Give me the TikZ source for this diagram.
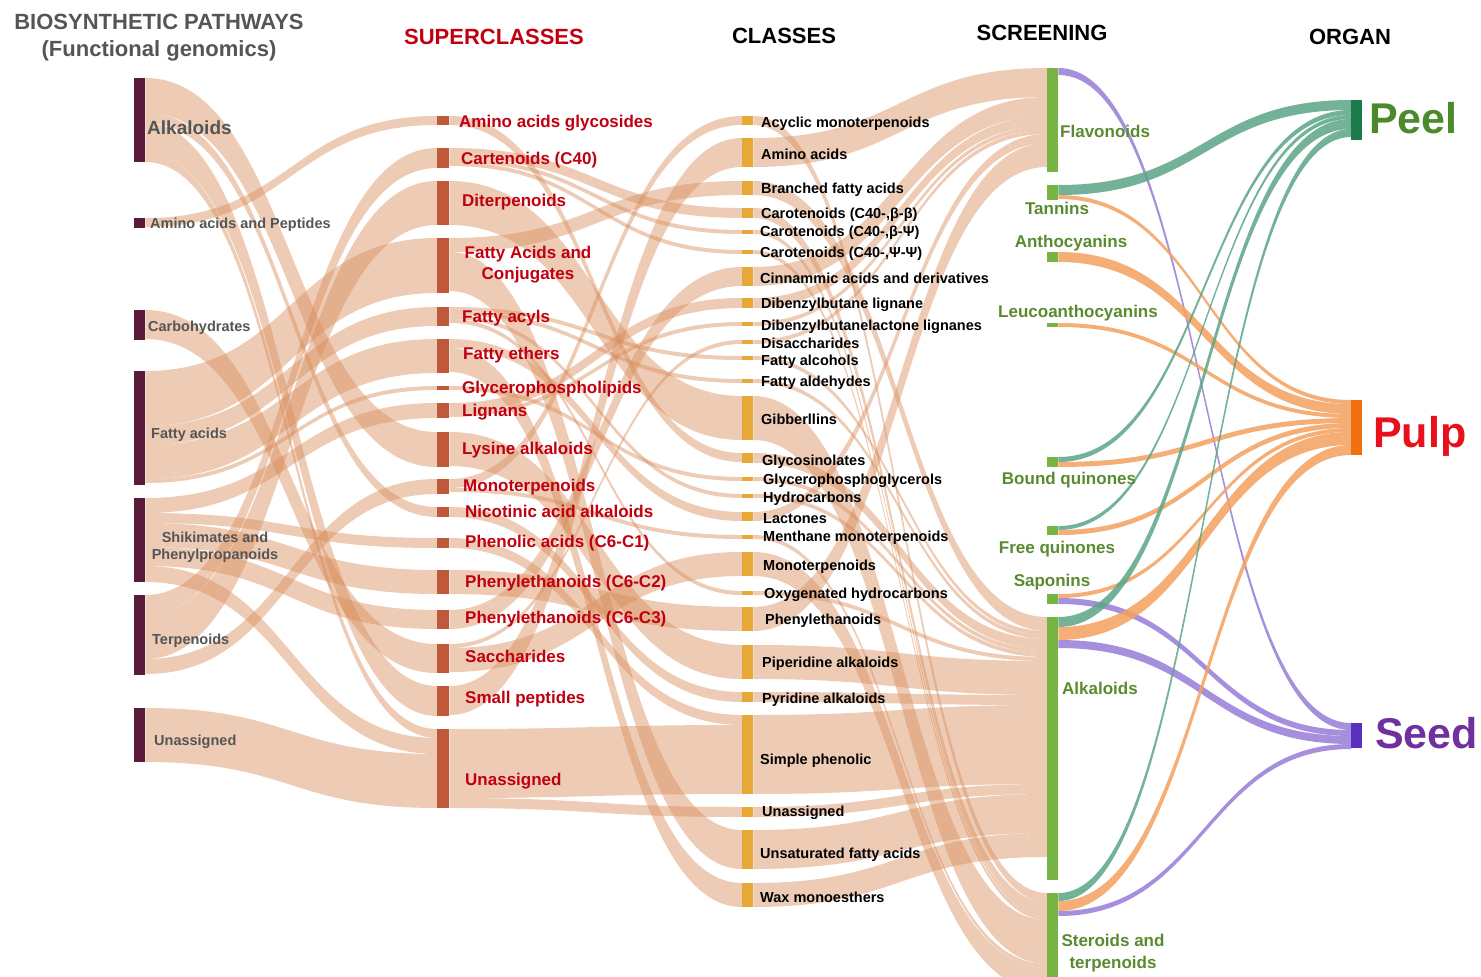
\documentclass[tikz,border=0pt]{standalone}
\usepackage{fontspec}
\setmainfont{Liberation Sans}
\usetikzlibrary{calc,backgrounds}

\definecolor{pathc}{HTML}{5A1A3A}
\definecolor{superc}{HTML}{C0583A}
\definecolor{classc}{HTML}{E8A838}
\definecolor{screenc}{HTML}{78B444}
\definecolor{flowc}{RGB}{215,140,90}
\definecolor{peelc}{HTML}{1A7A4A}
\definecolor{pulpc}{HTML}{F07010}
\definecolor{seedc}{HTML}{5A30C0}
\definecolor{tealc}{RGB}{90,165,135}
\definecolor{orangec}{RGB}{245,160,95}
\definecolor{purplec}{RGB}{150,125,215}
\definecolor{supertext}{HTML}{C00010}
\definecolor{greytext}{HTML}{555555}
\definecolor{greentext}{HTML}{5A8A30}

% band from the east side of one bar to the west side of another,
% stacked under the bands already drawn at both ends
\newcommand\band[4][flow]{%
  \ifcsname bo#2\endcsname\else\expandafter\gdef\csname bo#2\endcsname{0}\fi
  \ifcsname bi#3\endcsname\else\expandafter\gdef\csname bi#3\endcsname{0}\fi
  \edef\bandso{\csname bo#2\endcsname}\edef\bandsi{\csname bi#3\endcsname}%
  \path[#1] let \p1=($(#2.north east)+(0,\bandso)$), \p2=($(#3.north west)+(0,\bandsi)$) in
    (\x1,\y1) .. controls ({(\x1+\x2)/2},\y1) and ({(\x1+\x2)/2},\y2) .. (\x2,\y2)
    -- (\x2,{\y2-#4pt}) .. controls ({(\x1+\x2)/2},{\y2-#4pt}) and ({(\x1+\x2)/2},{\y1-#4pt}) .. (\x1,{\y1-#4pt}) -- cycle;
  \pgfmathsetmacro\bandtmp{\bandso+#4}\expandafter\xdef\csname bo#2\endcsname{\bandtmp}%
  \pgfmathsetmacro\bandtmp{\bandsi+#4}\expandafter\xdef\csname bi#3\endcsname{\bandtmp}%
}

\begin{document}
\begin{tikzpicture}[x=1pt, y=-1pt,
    bar/.style={rectangle, inner sep=0pt, anchor=north west, minimum width=11},
    pbar/.style={bar, fill=pathc},
    sbar/.style={bar, fill=superc, minimum width=12},
    cbar/.style={bar, fill=classc},
    fbar/.style={bar, fill=screenc},
    flow/.style={fill=flowc, fill opacity=0.45},
    peelf/.style={fill=tealc, fill opacity=0.85},
    pulpf/.style={fill=orangec, fill opacity=0.85},
    seedf/.style={fill=purplec, fill opacity=0.85},
    head/.style={font=\fontsize{22}{27}\selectfont\bfseries, align=center, inner sep=0pt, text height=15.8pt, text depth=0pt},
    plab/.style={font=\fontsize{14.5}{17}\selectfont\bfseries, text=greytext, anchor=west, inner sep=0pt, text height=10.4pt, text depth=0pt},
    slab/.style={font=\fontsize{17}{21}\selectfont\bfseries, text=supertext, anchor=west, inner sep=0pt, text height=12.2pt, text depth=0pt},
    clab/.style={font=\fontsize{14.5}{17}\selectfont\bfseries, anchor=west, inner sep=0pt, text height=10.4pt, text depth=0pt},
    flab/.style={font=\fontsize{17}{22}\selectfont\bfseries, text=greentext, inner sep=0pt, text height=12.2pt, text depth=0pt},
    olab/.style={font=\fontsize{43}{43}\selectfont\bfseries, anchor=west, inner sep=0pt, text height=31pt, text depth=0pt}]
\useasboundingbox (0,0) rectangle (1481,977);

% column headers
\node[head, text=greytext] (hPath) at (159,22) {BIOSYNTHETIC PATHWAYS};
\node[head, text=greytext] (hPathSub) at (159,49) {(Functional genomics)};
\node[head, text=supertext] (hSup) at (494,37) {SUPERCLASSES};
\node[head] (hCla) at (784,36) {CLASSES};
\node[head] (hScr) at (1042,33) {SCREENING};
\node[head] (hOrg) at (1350,37) {ORGAN};

% biosynthetic pathways
\node[pbar, minimum height=84] (pAlk) at (134,78) {};
\node[pbar, minimum height=10] (pAmi) at (134,218) {};
\node[pbar, minimum height=30] (pCar) at (134,310) {};
\node[pbar, minimum height=114] (pFat) at (134,371) {};
\node[pbar, minimum height=84] (pShi) at (134,498) {};
\node[pbar, minimum height=80] (pTer) at (134,595) {};
\node[pbar, minimum height=54] (pUna) at (134,708) {};

% superclasses
\node[sbar, minimum height=9] (sAag) at (437,116) {};
\node[sbar, minimum height=20] (sCar) at (437,148) {};
\node[sbar, minimum height=44] (sDit) at (437,181) {};
\node[sbar, minimum height=55] (sFac) at (437,238) {};
\node[sbar, minimum height=19] (sFay) at (437,307) {};
\node[sbar, minimum height=34] (sFet) at (437,339) {};
\node[sbar, minimum height=4] (sGly) at (437,386) {};
\node[sbar, minimum height=15] (sLig) at (437,403) {};
\node[sbar, minimum height=35] (sLys) at (437,432) {};
\node[sbar, minimum height=15] (sMon) at (437,479) {};
\node[sbar, minimum height=10] (sNic) at (437,507) {};
\node[sbar, minimum height=10] (sPhe) at (437,538) {};
\node[sbar, minimum height=24] (sPtwo) at (437,570) {};
\node[sbar, minimum height=19] (sPthree) at (437,610) {};
\node[sbar, minimum height=29] (sSac) at (437,644) {};
\node[sbar, minimum height=30] (sSma) at (437,686) {};
\node[sbar, minimum height=79] (sUna) at (437,729) {};

% classes
\node[cbar, minimum height=9] (cAcy) at (742,116) {};
\node[cbar, minimum height=29] (cAmi) at (742,138) {};
\node[cbar, minimum height=14] (cBra) at (742,181) {};
\node[cbar, minimum height=10] (cCbb) at (742,208) {};
\node[cbar, minimum height=4] (cCbp) at (742,230) {};
\node[cbar, minimum height=4] (cCpp) at (742,250) {};
\node[cbar, minimum height=19] (cCin) at (742,267) {};
\node[cbar, minimum height=10] (cDib) at (742,298) {};
\node[cbar, minimum height=4] (cDbl) at (742,322) {};
\node[cbar, minimum height=4] (cDis) at (742,340) {};
\node[cbar, minimum height=4] (cFal) at (742,356) {};
\node[cbar, minimum height=4] (cFad) at (742,379) {};
\node[cbar, minimum height=44] (cGib) at (742,396) {};
\node[cbar, minimum height=10] (cGls) at (742,453) {};
\node[cbar, minimum height=4] (cGpg) at (742,477) {};
\node[cbar, minimum height=4] (cHyd) at (742,494) {};
\node[cbar, minimum height=9] (cLac) at (742,512) {};
\node[cbar, minimum height=4] (cMen) at (742,535) {};
\node[cbar, minimum height=24] (cMon) at (742,552) {};
\node[cbar, minimum height=4] (cOxy) at (742,591) {};
\node[cbar, minimum height=24] (cPhe) at (742,607) {};
\node[cbar, minimum height=34] (cPip) at (742,645) {};
\node[cbar, minimum height=10] (cPyr) at (742,692) {};
\node[cbar, minimum height=79] (cSim) at (742,715) {};
\node[cbar, minimum height=10] (cUna) at (742,807) {};
\node[cbar, minimum height=39] (cUns) at (742,830) {};
\node[cbar, minimum height=24] (cWax) at (742,883) {};

% screening
\node[fbar, minimum height=104] (fFla) at (1047,68) {};
\node[fbar, minimum height=15] (fTan) at (1047,185) {};
\node[fbar, minimum height=10] (fAnt) at (1047,252) {};
\node[fbar, minimum height=4] (fLeu) at (1047,323) {};
\node[fbar, minimum height=10] (fBou) at (1047,457) {};
\node[fbar, minimum height=9] (fFre) at (1047,526) {};
\node[fbar, minimum height=10] (fSap) at (1047,594) {};
\node[fbar, minimum height=263] (fAlk) at (1047,617) {};
\node[fbar, minimum height=90] (fSte) at (1047,893) {};

% organs
\node[bar, fill=peelc, minimum height=40] (oPeel) at (1351,100) {};
\node[bar, fill=pulpc, minimum height=55] (oPulp) at (1351,400) {};
\node[bar, fill=seedc, minimum height=25] (oSeed) at (1351,723) {};

\begin{scope}[on background layer]
\clip (0,0) rectangle (1481,977);
% pathways -> superclasses
\band{pAlk}{sLys}{35}
\band{pAlk}{sNic}{10}
\band{pAlk}{sSma}{30}
\band{pAlk}{sUna}{9}
\band{pAmi}{sAag}{9}
\band{pCar}{sSac}{29}
\band{pFat}{sFac}{55}
\band{pFat}{sFay}{19}
\band{pFat}{sFet}{34}
\band{pFat}{sGly}{4}
\band{pShi}{sLig}{15}
\band{pShi}{sPhe}{10}
\band{pShi}{sPtwo}{24}
\band{pShi}{sPthree}{19}
\band{pShi}{sUna}{16}
\band{pTer}{sCar}{20}
\band{pTer}{sDit}{44}
\band{pTer}{sMon}{15}
\band{pUna}{sUna}{54}
% superclasses -> classes
\band{sAag}{cGls}{9}
\band{sCar}{cCbb}{10}
\band{sCar}{cCbp}{4}
\band{sCar}{cCpp}{4}
\band{sDit}{cGib}{44}
\band{sFac}{cBra}{14}
\band{sFac}{cUns}{39}
\band{sFay}{cFal}{4}
\band{sFay}{cFad}{4}
\band{sFay}{cHyd}{4}
\band{sFay}{cOxy}{4}
\band{sFet}{cLac}{9}
\band{sFet}{cWax}{24}
\band{sGly}{cGpg}{4}
\band{sLig}{cDib}{10}
\band{sLig}{cDbl}{4}
\band{sLys}{cPip}{34}
\band{sMon}{cAcy}{9}
\band{sMon}{cMen}{4}
\band{sNic}{cPyr}{10}
\band{sPhe}{cSim}{10}
\band{sPtwo}{cPhe}{24}
\band{sPthree}{cCin}{19}
\band{sSac}{cDis}{4}
\band{sSac}{cMon}{24}
\band{sSma}{cAmi}{29}
\band{sUna}{cSim}{69}
\band{sUna}{cUna}{10}
% classes -> screening
\band{cAcy}{fSte}{9}
\band{cAmi}{fFla}{29}
\band{cBra}{fAlk}{14}
\band{cCbb}{fSte}{10}
\band{cCbp}{fSte}{4}
\band{cCpp}{fSte}{4}
\band{cCin}{fFla}{19}
\band{cDib}{fFla}{10}
\band{cDbl}{fFla}{4}
\band{cDis}{fFla}{4}
\band{cFal}{fAlk}{4}
\band{cFad}{fAlk}{4}
\band{cGib}{fSte}{44}
\band{cGls}{fAlk}{10}
\band{cGpg}{fAlk}{4}
\band{cHyd}{fAlk}{4}
\band{cLac}{fFla}{9}
\band{cMen}{fSte}{4}
\band{cMon}{fSte}{24}
\band{cOxy}{fAlk}{4}
\band{cPhe}{fFla}{24}
\band{cPip}{fAlk}{34}
\band{cPyr}{fAlk}{10}
\band{cSim}{fAlk}{79}
\band{cUna}{fAlk}{10}
\band{cUns}{fAlk}{39}
\band{cWax}{fAlk}{24}
% screening -> organ
\band[seedf]{fFla}{oSeed}{7}
\band[peelf]{fTan}{oPeel}{10}
\band[pulpf]{fTan}{oPulp}{4}
\band[pulpf]{fAnt}{oPulp}{10}
\band[pulpf]{fLeu}{oPulp}{4}
\band[peelf]{fBou}{oPeel}{5}
\band[pulpf]{fBou}{oPulp}{5}
\band[peelf]{fFre}{oPeel}{4}
\band[pulpf]{fFre}{oPulp}{5}
\band[pulpf]{fSap}{oPulp}{4}
\band[seedf]{fSap}{oSeed}{6}
\band[peelf]{fAlk}{oPeel}{10}
\band[pulpf]{fAlk}{oPulp}{13}
\band[seedf]{fAlk}{oSeed}{8}
\band[peelf]{fSte}{oPeel}{8}
\band[pulpf]{fSte}{oPulp}{10}
\band[seedf]{fSte}{oSeed}{5}
\end{scope}

% labels
\node[plab, font=\fontsize{19}{22}\selectfont\bfseries, text height=13.7pt] (lpAlk) at (147,128) {Alkaloids};
\node[plab] (lpAmi) at (150,223) {Amino acids and Peptides};
\node[plab] (lpCar) at (148,326) {Carbohydrates};
\node[plab] (lpFat) at (151,433) {Fatty acids};
\node[plab, anchor=center, align=center] (lpShi) at (215,554) {Shikimates and\\Phenylpropanoids};
\node[plab] (lpTer) at (152,639) {Terpenoids};
\node[plab] (lpUna) at (154,740) {Unassigned};

\node[slab] (lsAag) at (459,121) {Amino acids glycosides};
\node[slab] (lsCar) at (461,158) {Cartenoids (C40)};
\node[slab] (lsDit) at (462,200) {Diterpenoids};
\node[slab, anchor=center, align=center] (lsFac) at (528,273) {Fatty Acids and\\Conjugates};
\node[slab] (lsFay) at (462,316) {Fatty acyls};
\node[slab] (lsFet) at (463,353) {Fatty ethers};
\node[slab] (lsGly) at (462,387) {Glycerophospholipids};
\node[slab] (lsLig) at (462,410) {Lignans};
\node[slab] (lsLys) at (462,448) {Lysine alkaloids};
\node[slab] (lsMon) at (463,485) {Monoterpenoids};
\node[slab] (lsNic) at (465,511) {Nicotinic acid alkaloids};
\node[slab] (lsPhe) at (465,541) {Phenolic acids (C6-C1)};
\node[slab] (lsPtwo) at (465,581) {Phenylethanoids (C6-C2)};
\node[slab] (lsPthree) at (465,617) {Phenylethanoids (C6-C3)};
\node[slab] (lsSac) at (465,656) {Saccharides};
\node[slab] (lsSma) at (465,697) {Small peptides};
\node[slab] (lsUna) at (465,779) {Unassigned};

\node[clab] (lcAcy) at (761,122) {Acyclic monoterpenoids};
\node[clab] (lcAmi) at (761,154) {Amino acids};
\node[clab] (lcBra) at (761,188) {Branched fatty acids};
\node[clab] (lcCbb) at (761,213) {Carotenoids (C40-,β-β)};
\node[clab] (lcCbp) at (760,231) {Carotenoids (C40-,β-Ψ)};
\node[clab] (lcCpp) at (760,252) {Carotenoids (C40-,Ψ-Ψ)};
\node[clab] (lcCin) at (760,278) {Cinnammic acids and derivatives};
\node[clab] (lcDib) at (761,303) {Dibenzylbutane lignane};
\node[clab] (lcDbl) at (761,325) {Dibenzylbutanelactone lignanes};
\node[clab] (lcDis) at (761,343) {Disaccharides};
\node[clab] (lcFal) at (761,360) {Fatty alcohols};
\node[clab] (lcFad) at (761,381) {Fatty aldehydes};
\node[clab] (lcGib) at (761,419) {Gibberllins};
\node[clab] (lcGls) at (762,460) {Glycosinolates};
\node[clab] (lcGpg) at (763,479) {Glycerophosphoglycerols};
\node[clab] (lcHyd) at (763,497) {Hydrocarbons};
\node[clab] (lcLac) at (763,518) {Lactones};
\node[clab] (lcMen) at (763,536) {Menthane monoterpenoids};
\node[clab] (lcMon) at (763,565) {Monoterpenoids};
\node[clab] (lcOxy) at (764,593) {Oxygenated hydrocarbons};
\node[clab] (lcPhe) at (765,619) {Phenylethanoids};
\node[clab] (lcPip) at (762,662) {Piperidine alkaloids};
\node[clab] (lcPyr) at (762,698) {Pyridine alkaloids};
\node[clab] (lcSim) at (760,759) {Simple phenolic};
\node[clab] (lcUna) at (762,811) {Unassigned};
\node[clab] (lcUns) at (760,853) {Unsaturated fatty acids};
\node[clab] (lcWax) at (760,897) {Wax monoesthers};

\node[flab, anchor=west] (lfFla) at (1060,131) {Flavonoids};
\node[flab] (lfTan) at (1057,208) {Tannins};
\node[flab] (lfAnt) at (1071,241) {Anthocyanins};
\node[flab] (lfLeu) at (1078,311) {Leucoanthocyanins};
\node[flab] (lfBou) at (1069,478) {Bound quinones};
\node[flab] (lfFre) at (1057,547) {Free quinones};
\node[flab] (lfSap) at (1052,580) {Saponins};
\node[flab, anchor=west] (lfAlk) at (1062,688) {Alkaloids};
\node[flab, align=center] (lfSte) at (1113,962) {Steroids and\\terpenoids};

\node[olab, text={rgb,255:red,74;green,138;blue,42}] (loPeel) at (1369,118) {Peel};
\node[olab, text={rgb,255:red,232;green,16;blue,26}] (loPulp) at (1373,432) {Pulp};
\node[olab, text={rgb,255:red,112;green,48;blue,160}] (loSeed) at (1375,733) {Seed};
\end{tikzpicture}
\end{document}
